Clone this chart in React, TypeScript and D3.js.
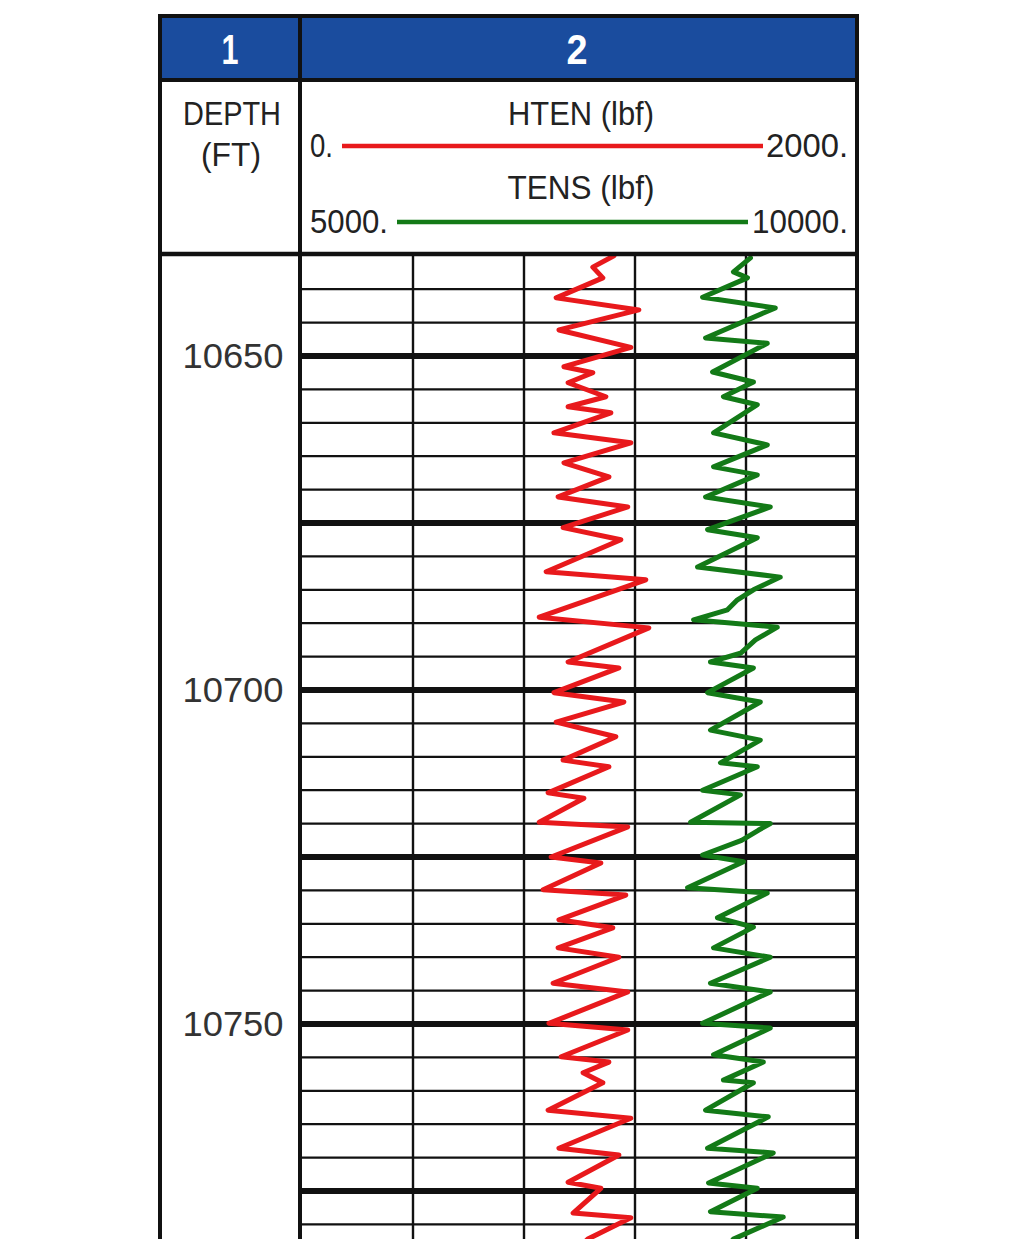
import React from "react";
import * as d3 from "d3";

// ---- data ----
const DEPTH_LABELS = [10650, 10700, 10750];
const DEPTH_MIN = 10635;
const DEPTH_MAX = 10785;

const HTEN_RANGE = [0, 2000];
const TENS_RANGE = [5000, 10000];

const HTEN_DEPTH = [
  10635.0, 10636.7, 10638.3, 10641.3, 10643.1, 10646.1, 10648.7, 10651.6, 10652.5, 10654.0,
  10656.1, 10657.6, 10658.5, 10661.5, 10663.0, 10666.0, 10668.1, 10671.1, 10672.6, 10675.7,
  10677.5, 10682.3, 10683.5, 10689.1, 10690.7, 10695.8, 10696.7, 10700.4, 10701.8, 10704.8,
  10707.0, 10710.5, 10711.5, 10715.4, 10716.2, 10719.8, 10720.5, 10725.0, 10725.9, 10729.9,
  10730.7, 10734.4, 10735.6, 10738.6, 10740.0, 10743.9, 10745.2, 10749.9, 10750.9, 10754.9,
  10755.7, 10757.3, 10758.8, 10762.9, 10764.1, 10768.6, 10769.6, 10773.7, 10774.6, 10778.3,
  10779.0, 10782.2, 10785.0,
];
const HTEN_VALUE = [
  1124, 1048, 1084, 916, 1214, 926, 1185, 944, 1048, 959,
  1095, 959, 1113, 908, 1185, 944, 1106, 923, 1174, 941,
  1149, 880, 1239, 855, 1250, 959, 1142, 908, 1160, 916,
  1131, 941, 1106, 887, 1016, 855, 1174, 898, 1077, 869,
  1167, 926, 1120, 923, 1142, 905, 1174, 890, 1174, 934,
  1106, 1013, 1084, 887, 1185, 926, 1142, 959, 1077, 977,
  1185, 1030, 960,
];

const TENS_DEPTH = [
  10635.3, 10637.4, 10638.3, 10641.2, 10642.8, 10647.3, 10648.1, 10652.4, 10653.9, 10656.1,
  10657.3, 10661.5, 10663.3, 10666.6, 10667.8, 10671.1, 10672.6, 10676.0, 10677.2, 10681.6,
  10683.1, 10685.0, 10686.5, 10688.0, 10689.5, 10690.6, 10692.5, 10694.5, 10695.8, 10696.7,
  10700.4, 10701.8, 10706.0, 10707.5, 10710.9, 10711.5, 10715.0, 10715.7, 10719.8, 10720.0,
  10721.0, 10722.5, 10724.7, 10725.7, 10729.6, 10730.4, 10734.1, 10735.5, 10738.6, 10740.0,
  10743.9, 10745.2, 10749.9, 10750.6, 10754.6, 10755.7, 10758.4, 10758.8, 10762.9, 10763.9,
  10768.6, 10769.3, 10773.8, 10774.6, 10778.1, 10778.9, 10782.2, 10785.0,
];
const TENS_VALUE = [
  9040, 8887, 9013, 8609, 9264, 8636, 9192, 8699, 9067, 8797,
  9102, 8708, 9192, 8708, 9102, 8636, 9219, 8654, 9102, 8564,
  9309, 9067, 8923, 8833, 8528, 9282, 9085, 8950, 8680, 9067,
  8654, 9129, 8680, 9129, 8770, 9102, 8609, 8950, 8501, 9219,
  9111, 8960, 8609, 8977, 8474, 9192, 8743, 9067, 8708, 9219,
  8680, 9219, 8609, 9219, 8708, 9156, 8797, 9067, 8636, 9201,
  8654, 9246, 8663, 9102, 8680, 9336, 8887, 8750,
];

// ---- layout ----
const W = 1014;
const H = 1239;
const X0 = 160; // left frame
const XD = 300; // depth/track divider
const X1 = 857; // right frame
const Y0 = 16; // top frame
const YB = 80; // bottom of blue band
const YH = 254; // bottom of header
const BLUE = "#1a4c9e";
const RED = "#e8191c";
const GREEN = "#137a17";
const FONT = "'Liberation Sans', Arial, sans-serif";

export default function App() {
  const y = d3.scaleLinear().domain([10650, 10750]).range([356, 1024]);
  const xH = d3.scaleLinear().domain(HTEN_RANGE).range([XD + 2, X1]);
  const xT = d3.scaleLinear().domain(TENS_RANGE).range([XD + 2, X1]);

  const htenPts: [number, number][] = HTEN_DEPTH.map((d, i) => [d, HTEN_VALUE[i]]);
  const tensPts: [number, number][] = TENS_DEPTH.map((d, i) => [d, TENS_VALUE[i]]);
  const lineH = d3.line<[number, number]>().x((p) => xH(p[1])).y((p) => y(p[0]));
  const lineT = d3.line<[number, number]>().x((p) => xT(p[1])).y((p) => y(p[0]));

  const gridDepths = d3.range(DEPTH_MIN + 5, DEPTH_MAX + 1, 5);
  const vTicks = d3.range(1, 5).map((k) => HTEN_RANGE[0] + (k * (HTEN_RANGE[1] - HTEN_RANGE[0])) / 5);

  const textStyle = { fontFamily: FONT, fill: "#222" } as const;

  return (
    <div style={{ position: "absolute", left: 0, top: 0 }}>
      <svg width={W} height={H} viewBox={`0 0 ${W} ${H}`} style={{ display: "block", background: "#fff" }}>
        <defs>
          <clipPath id="trackClip">
            <rect x={XD} y={YH} width={X1 - XD} height={H - YH} />
          </clipPath>
        </defs>

        {/* blue title band */}
        <rect x={X0} y={Y0} width={X1 - X0} height={YB - Y0} fill={BLUE} />
        <text x={230} y={64} textAnchor="middle" fontFamily={FONT} fontWeight="bold" fontSize={42} fill="#fff" textLength={17} lengthAdjust="spacingAndGlyphs">1</text>
        <text x={577} y={64} textAnchor="middle" fontFamily={FONT} fontWeight="bold" fontSize={42} fill="#fff" textLength={21} lengthAdjust="spacingAndGlyphs">2</text>

        {/* header labels */}
        <text x={232} y={125} textAnchor="middle" fontSize={33} {...textStyle} textLength={98} lengthAdjust="spacingAndGlyphs">DEPTH</text>
        <text x={231} y={166} textAnchor="middle" fontSize={33} {...textStyle} textLength={60} lengthAdjust="spacingAndGlyphs">(FT)</text>

        <text x={581} y={125} textAnchor="middle" fontSize={33} {...textStyle} textLength={146} lengthAdjust="spacingAndGlyphs">HTEN (lbf)</text>
        <text x={310} y={157} fontSize={33} {...textStyle} textLength={23} lengthAdjust="spacingAndGlyphs">0.</text>
        <text x={848} y={157} textAnchor="end" fontSize={33} {...textStyle} textLength={82} lengthAdjust="spacingAndGlyphs">2000.</text>
        <line x1={342} x2={763} y1={146} y2={146} stroke={RED} strokeWidth={4.5} />

        <text x={581} y={199} textAnchor="middle" fontSize={33} {...textStyle} textLength={147} lengthAdjust="spacingAndGlyphs">TENS (lbf)</text>
        <text x={310} y={233} fontSize={33} {...textStyle} textLength={78} lengthAdjust="spacingAndGlyphs">5000.</text>
        <text x={848} y={233} textAnchor="end" fontSize={33} {...textStyle} textLength={96} lengthAdjust="spacingAndGlyphs">10000.</text>
        <line x1={397} x2={748} y1={222} y2={222} stroke={GREEN} strokeWidth={4.5} />

        {/* grid: horizontal */}
        {gridDepths.map((d) => {
          const heavy = d % 25 === 0;
          return (
            <line key={d} x1={XD} x2={X1} y1={y(d)} y2={y(d)} stroke="#111" strokeWidth={heavy ? 6 : 2.2} />
          );
        })}
        {/* grid: vertical */}
        {vTicks.map((v) => (
          <line key={v} x1={xH(v)} x2={xH(v)} y1={YH} y2={H} stroke="#111" strokeWidth={2.4} />
        ))}

        {/* depth labels */}
        {DEPTH_LABELS.map((d) => (
          <text key={d} x={233} y={y(d) + 12} textAnchor="middle" fontSize={35} fontFamily={FONT} fill="#333" textLength={101} lengthAdjust="spacingAndGlyphs">
            {d}
          </text>
        ))}

        {/* curves */}
        <g clipPath="url(#trackClip)">
          <path d={lineH(htenPts) || ""} fill="none" stroke={RED} strokeWidth={5} strokeLinejoin="round" strokeLinecap="round" />
          <path d={lineT(tensPts) || ""} fill="none" stroke={GREEN} strokeWidth={5} strokeLinejoin="round" strokeLinecap="round" />
        </g>

        {/* frame */}
        <line x1={X0} x2={X1} y1={Y0} y2={Y0} stroke="#111" strokeWidth={4} />
        <line x1={X0} x2={X1} y1={YB} y2={YB} stroke="#111" strokeWidth={4} />
        <line x1={X0} x2={X1} y1={YH} y2={YH} stroke="#111" strokeWidth={4.5} />
        <line x1={X0} x2={X0} y1={Y0 - 2} y2={H} stroke="#111" strokeWidth={4} />
        <line x1={XD} x2={XD} y1={Y0 - 2} y2={H} stroke="#111" strokeWidth={4} />
        <line x1={X1} x2={X1} y1={Y0 - 2} y2={H} stroke="#111" strokeWidth={4} />
      </svg>
    </div>
  );
}
